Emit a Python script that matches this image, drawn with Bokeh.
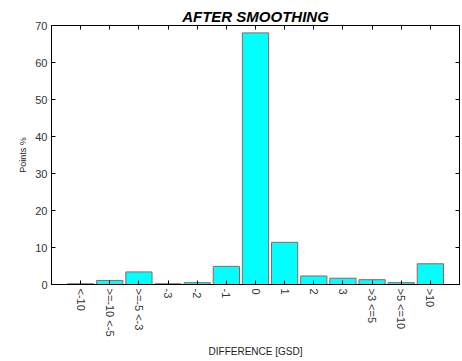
import math
from bokeh.plotting import figure
from bokeh.models import ColumnDataSource, Range1d, FixedTicker, LinearAxis
from bokeh.embed import file_html
from bokeh.resources import INLINE

categories = ["<-10", ">=-10 <-5", ">=-5 <-3", "-3", "-2", "-1", "0", "1", "2", "3", ">3 <=5", ">5 <=10", ">10"]
values = [0.2, 1.1, 3.4, 0.2, 0.5, 4.9, 68.0, 11.4, 2.3, 1.7, 1.3, 0.5, 5.6]
y_ticks = [0, 10, 20, 30, 40, 50, 60, 70]

positions = list(range(1, len(categories) + 1))
src = ColumnDataSource(dict(x=positions, top=values))

FONT = "Liberation Sans"

p = figure(width=462, height=361, output_backend="svg", toolbar_location=None,
           x_range=Range1d(0, len(categories) + 1), y_range=Range1d(0, 70),
           min_border_left=51, min_border_right=3, min_border_top=25, min_border_bottom=77,
           title="AFTER SMOOTHING")
p.title.align = "center"
p.title.text_font = FONT
p.title.text_font_style = "bold italic"
p.title.text_font_size = "15px"
p.title.text_color = "black"
p.title.offset = 0
p.title.standoff = 1

p.vbar(x="x", top="top", width=0.9, bottom=0, source=src,
       fill_color="#00ffff", line_color="#9a6060", line_width=1)

p.xgrid.visible = False
p.ygrid.visible = False
p.outline_line_color = "black"
p.outline_line_width = 1
p.background_fill_color = "white"
p.border_fill_color = "white"

xa = p.xaxis[0]
xa.ticker = FixedTicker(ticks=positions)
xa.major_label_overrides = {i: c for i, c in zip(positions, categories)}
xa.major_label_orientation = -math.pi / 2
xa.major_tick_in = 4
xa.major_tick_out = 0
xa.minor_tick_line_color = None
xa.axis_label = "DIFFERENCE [GSD]"
xa.axis_label_text_font = FONT
xa.axis_label_text_font_size = "10px"
xa.axis_label_text_font_style = "normal"
xa.axis_label_text_color = "#222222"
xa.major_label_text_font = FONT
xa.major_label_text_font_size = "11px"
xa.major_label_text_color = "#333333"
xa.major_label_standoff = 4
xa.axis_label_standoff = 6

ya = p.yaxis[0]
ya.ticker = FixedTicker(ticks=y_ticks)
ya.major_tick_in = 4
ya.major_tick_out = 0
ya.minor_tick_line_color = None
ya.axis_label = "Points %"
ya.axis_label_text_font = FONT
ya.axis_label_text_font_size = "9px"
ya.axis_label_text_font_style = "normal"
ya.axis_label_text_color = "#222222"
ya.major_label_text_font = FONT
ya.major_label_text_font_size = "11px"
ya.major_label_text_color = "#333333"
ya.major_label_standoff = 4
ya.axis_label_standoff = 4

top_axis = LinearAxis(ticker=FixedTicker(ticks=positions), major_tick_in=4, major_tick_out=0,
                      minor_tick_line_color=None, major_label_text_alpha=0,
                      major_label_text_font_size="1px", major_label_standoff=0)
p.add_layout(top_axis, "above")
right_axis = LinearAxis(ticker=FixedTicker(ticks=y_ticks), major_tick_in=4, major_tick_out=0,
                        minor_tick_line_color=None, major_label_text_alpha=0,
                        major_label_text_font_size="1px", major_label_standoff=0)
p.add_layout(right_axis, "right")

open("out.html", "w").write(file_html(p, INLINE))
